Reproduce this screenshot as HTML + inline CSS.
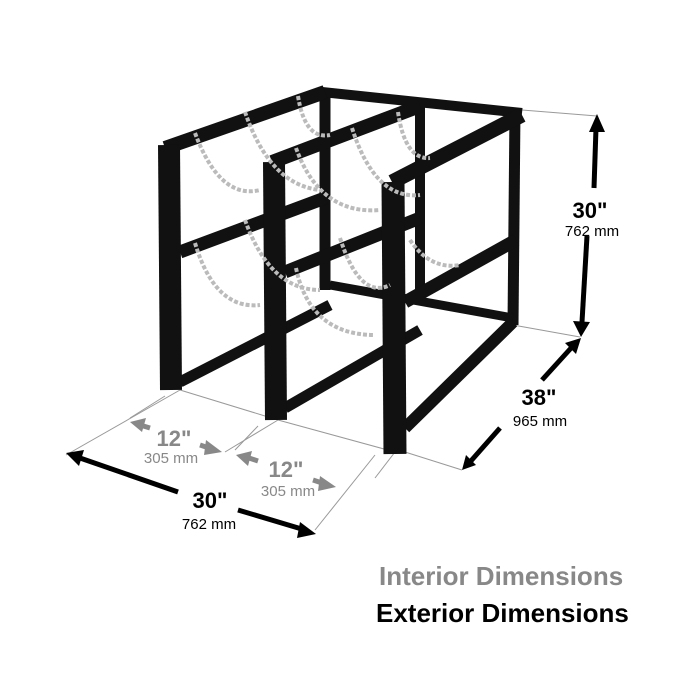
<!DOCTYPE html>
<html><head><style>
html,body{margin:0;padding:0;background:#fff;width:700px;height:700px;overflow:hidden}
</style></head><body>
<svg width="700" height="700" viewBox="0 0 700 700" xmlns="http://www.w3.org/2000/svg" font-family="Liberation Sans, Arial, sans-serif">
<g stroke="#999" stroke-width="1" fill="none">
<line x1="180" y1="390" x2="66" y2="455"/>
<line x1="180" y1="390" x2="278" y2="420"/>
<line x1="165" y1="396" x2="130" y2="418"/>
<line x1="278" y1="420" x2="225" y2="452"/>
<line x1="278" y1="420" x2="395" y2="452"/>
<line x1="258" y1="426" x2="235" y2="450"/>
<line x1="395" y1="452" x2="375" y2="478"/>
<line x1="375" y1="455" x2="315" y2="530"/>
<line x1="405" y1="452" x2="462" y2="470"/>
<line x1="513" y1="325" x2="580" y2="337"/>
<line x1="522" y1="110" x2="597" y2="116"/>
</g>
<g stroke="#111" stroke-linecap="butt" fill="none">
<line x1="325" y1="90" x2="325" y2="290" stroke-width="11"/>
<line x1="420" y1="100" x2="420" y2="300" stroke-width="10"/>
<line x1="515" y1="110" x2="513" y2="325" stroke-width="11"/>
<line x1="322" y1="92" x2="522" y2="113" stroke-width="10"/>
<line x1="330" y1="285" x2="513" y2="318" stroke-width="9"/>
<line x1="165" y1="148" x2="325" y2="92" stroke-width="14"/>
<line x1="180" y1="252" x2="325" y2="198" stroke-width="13"/>
<line x1="180" y1="382" x2="330" y2="305" stroke-width="11"/>
<line x1="169" y1="145" x2="171" y2="390" stroke-width="22"/>
<line x1="272" y1="162" x2="420" y2="106" stroke-width="14"/>
<line x1="285" y1="272" x2="420" y2="218" stroke-width="13"/>
<line x1="285" y1="408" x2="420" y2="330" stroke-width="11"/>
<line x1="274" y1="162" x2="276" y2="420" stroke-width="22"/>
<line x1="392" y1="182" x2="522" y2="115" stroke-width="15"/>
<line x1="405" y1="302" x2="516" y2="240" stroke-width="13"/>
<line x1="405" y1="428" x2="513" y2="322" stroke-width="12"/>
<line x1="393" y1="182" x2="395" y2="454" stroke-width="23"/>
</g>
<g stroke="#bbb" stroke-width="4" stroke-dasharray="4,2" fill="none">
<path d="M195,133 Q220,200 260,190"/>
<path d="M245,112 Q270,185 320,190"/>
<path d="M298,96 Q305,140 330,135"/>
<path d="M352,128 Q375,200 420,195"/>
<path d="M296,148 Q320,215 380,210"/>
<path d="M398,112 Q405,160 430,158"/>
<path d="M195,243 Q215,310 260,305"/>
<path d="M245,220 Q270,290 320,290"/>
<path d="M296,268 Q310,335 375,335"/>
<path d="M340,238 Q360,300 390,285"/>
<path d="M410,240 Q430,270 460,265"/>
</g>
<g stroke="#000" stroke-width="5" fill="none">
<line x1="596" y1="128" x2="594" y2="188"/>
<line x1="587" y1="236" x2="582" y2="322"/>
<line x1="572" y1="347" x2="542" y2="380"/>
<line x1="500" y1="428" x2="470" y2="462"/>
<line x1="80" y1="458" x2="178" y2="492"/>
<line x1="238" y1="510" x2="305" y2="530"/>
</g>
<g fill="#000">
<polygon points="597,114 589,132 605,132"/>
<polygon points="581,337 573,321 590,322"/>
<polygon points="581,338 565,343 576,354"/>
<polygon points="462,470 466,455 476,465"/>
<polygon points="66,453 84,450 79,466"/>
<polygon points="316,534 300,522 297,538"/>
</g>
<g stroke="#888" stroke-width="5">
<line x1="140" y1="425" x2="150" y2="428"/>
<line x1="200" y1="445" x2="212" y2="449"/>
<line x1="246" y1="457" x2="258" y2="461"/>
<line x1="313" y1="480" x2="325" y2="484"/>
</g>
<g fill="#888">
<polygon points="130,422 146,418 142,432"/>
<polygon points="222,452 206,440 204,455"/>
<polygon points="236,455 252,451 248,466"/>
<polygon points="336,487 320,476 318,491"/>
</g>
<g text-anchor="middle">
<text x="590" y="218" font-size="22" font-weight="bold">30"</text>
<text x="592" y="236" font-size="15">762 mm</text>
<text x="539" y="405" font-size="22" font-weight="bold">38"</text>
<text x="540" y="426" font-size="15">965 mm</text>
<text x="210" y="508" font-size="22" font-weight="bold">30"</text>
<text x="209" y="529" font-size="15">762 mm</text>
<text x="174" y="446" font-size="22" font-weight="bold" fill="#888">12"</text>
<text x="171" y="463" font-size="15" fill="#888">305 mm</text>
<text x="286" y="477" font-size="22" font-weight="bold" fill="#888">12"</text>
<text x="288" y="496" font-size="15" fill="#888">305 mm</text>
</g>
<text x="379" y="585" font-size="26" font-weight="bold" fill="#888">Interior Dimensions</text>
<text x="376" y="622" font-size="26" font-weight="bold" fill="#000">Exterior Dimensions</text>
</svg>
</body></html>
